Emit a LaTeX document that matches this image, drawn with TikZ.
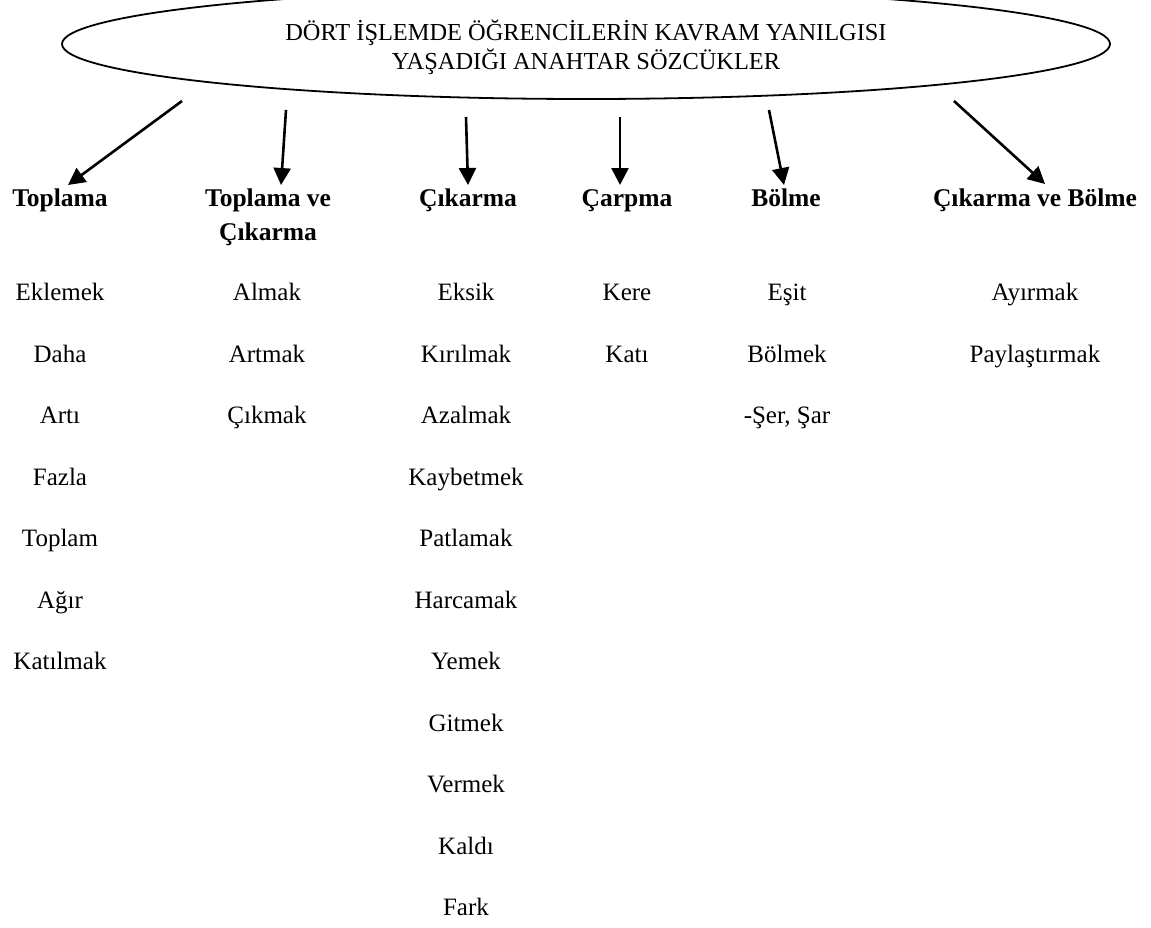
\documentclass[tikz,border=0pt]{standalone}
\usepackage{fontspec}
\setmainfont{Liberation Serif}
\usetikzlibrary{shapes.geometric,arrows.meta}
\begin{document}
\begin{tikzpicture}[x=1pt,y=-1pt,
  hdr/.style={font=\fontsize{25.5}{34}\selectfont\bfseries, anchor=base, align=center, inner sep=0},
  item/.style={font=\fontsize{25}{30}\selectfont, anchor=base, inner sep=0},
  arr/.style={line width=2.6pt, -{Triangle[length=17pt,width=17pt]}}]
\useasboundingbox (0,0) rectangle (1151,927);
\node[ellipse, draw, line width=1.8pt, minimum width=1048pt, minimum height=110pt, inner sep=0] (title) at (586,44) {};
\node[align=center, inner sep=0, font=\fontsize{24.4}{29.5}\selectfont] (titletext) at (586,47.5)
  {DÖRT İŞLEMDE ÖĞRENCİLERİN KAVRAM YANILGISI\\YAŞADIĞI ANAHTAR SÖZCÜKLER};
% headers
\node[hdr] (h1) at (60,206.5) {Toplama};
\node[hdr] (h2) at (268,240.5) {Toplama ve\\Çıkarma};
\node[hdr] (h3) at (468,206.5) {Çıkarma};
\node[hdr] (h4) at (627,206.5) {Çarpma};
\node[hdr] (h5) at (786,206.5) {Bölme};
\node[hdr] (h6) at (1035,206.5) {Çıkarma ve Bölme};
% arrows
\coordinate (s1) at (182,101); \coordinate (e1) at (68,185);
\coordinate (s2) at (286,110); \coordinate (e2) at (281,185);
\coordinate (s3) at (466,117); \coordinate (e3) at (468,185);
\coordinate (s4) at (620,117); \coordinate (e4) at (620,185);
\coordinate (s5) at (769,110); \coordinate (e5) at (784,185);
\coordinate (s6) at (954,101); \coordinate (e6) at (1045,184);
\foreach \i in {1,...,6} {\draw[arr] (s\i) -- (e\i);}
% column 1
\foreach \t [count=\k from 0] in {Eklemek,Daha,Artı,Fazla,Toplam,Ağır,Katılmak}
  {\node[item] (a\k) at (60,300.5+61.5*\k) {\t};}
% column 2
\foreach \t [count=\k from 0] in {Almak,Artmak,Çıkmak}
  {\node[item] (b\k) at (267,300.5+61.5*\k) {\t};}
% column 3
\foreach \t [count=\k from 0] in {Eksik,Kırılmak,Azalmak,Kaybetmek,Patlamak,Harcamak,Yemek,Gitmek,Vermek,Kaldı,Fark}
  {\node[item] (c\k) at (466,300.5+61.5*\k) {\t};}
% column 4
\foreach \t [count=\k from 0] in {Kere,Katı}
  {\node[item] (d\k) at (627,300.5+61.5*\k) {\t};}
% column 5
\foreach \t [count=\k from 0] in {Eşit,Bölmek,{-Şer, Şar}}
  {\node[item] (f\k) at (787,300.5+61.5*\k) {\t};}
% column 6
\foreach \t [count=\k from 0] in {Ayırmak,Paylaştırmak}
  {\node[item] (g\k) at (1035,300.5+61.5*\k) {\t};}
\end{tikzpicture}
\end{document}
